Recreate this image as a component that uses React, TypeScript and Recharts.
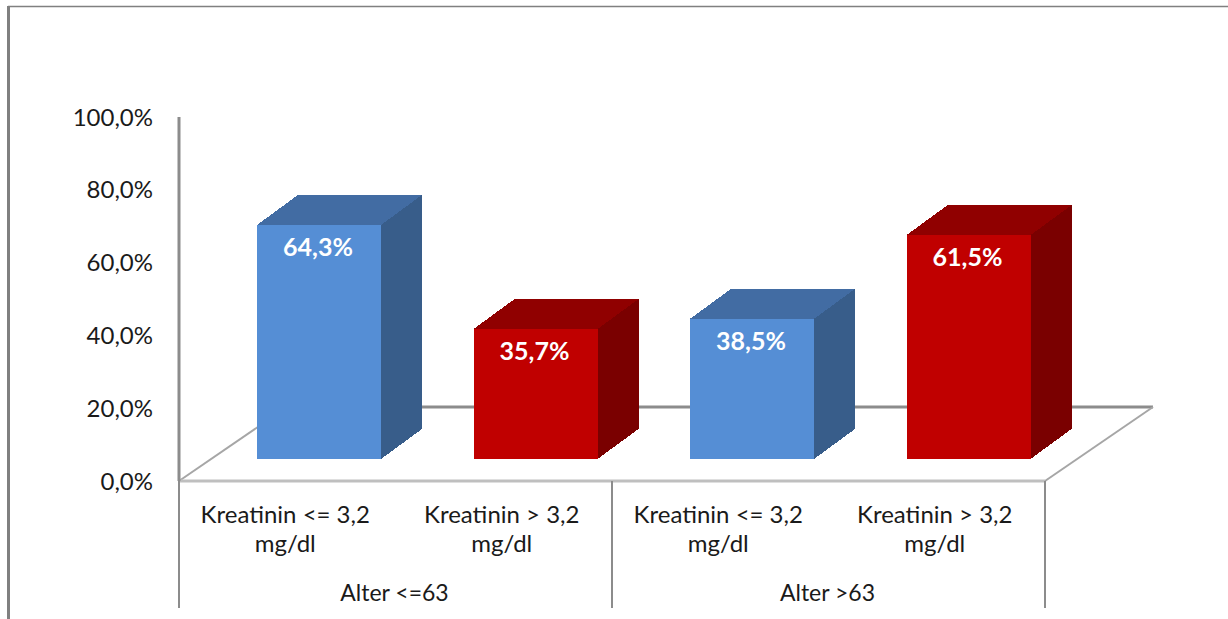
import { BarChart, Bar, XAxis, YAxis, Customized, LabelList } from "recharts"

const categories = [
  "Kreatinin <= 3,2\nmg/dl",
  "Kreatinin > 3,2\nmg/dl",
  "Kreatinin <= 3,2\nmg/dl",
  "Kreatinin > 3,2\nmg/dl",
]
const groups = ["Alter <=63", "Alter <=63", "Alter >63", "Alter >63"]
const values = [64.3, 35.7, 38.5, 61.5]
const yTicks = [0, 20, 40, 60, 80, 100]

const data = categories.map((name, i) => ({ name, group: groups[i], value: values[i] }))

const W = 1228
const H = 619
const PLOT_LEFT = 179
const PLOT_RIGHT = 1045
const PLOT_TOP = 117
const PLOT_BOTTOM = 481
const FONT = "Lato, sans-serif"
const TEXT = "#1a1a1a"

// fake 3d: how far the bar sits in from the front edge, and the depth of its box
const SHIFT_X = 32
const SHIFT_Y = 22
const DEPTH_X = 41
const DEPTH_Y = 30

const blue = { front: "#558ed5", top: "#426ca3", side: "#385d8a" }
const red = { front: "#c00000", top: "#900000", side: "#7a0000" }
const palette = [blue, red, blue, red]

const pct = (v: number) => v.toFixed(1).replace(".", ",") + "%"

function Box(props: any) {
  const { x, y, width, height, index } = props
  const c = palette[index]
  const l = x + SHIFT_X
  const r = l + width
  const t = y - SHIFT_Y
  const b = t + height
  return (
    <g shapeRendering="crispEdges">
      <polygon
        points={`${r},${t} ${r + DEPTH_X},${t - DEPTH_Y} ${r + DEPTH_X},${b - DEPTH_Y} ${r},${b}`}
        fill={c.side}
      />
      <polygon
        points={`${l},${t} ${l + DEPTH_X},${t - DEPTH_Y} ${r + DEPTH_X},${t - DEPTH_Y} ${r},${t}`}
        fill={c.top}
      />
      <rect x={l} y={t} width={width} height={height} fill={c.front} />
    </g>
  )
}

function BarValue(props: any) {
  const { x, y, width, value } = props
  return (
    <text
      x={x + SHIFT_X + width / 2 - 1}
      y={y - SHIFT_Y + 21}
      textAnchor="middle"
      dominantBaseline="central"
      fontFamily={FONT}
      fontWeight={700}
      fontSize={25}
      fill="#fff"
    >
      {pct(value)}
    </text>
  )
}

function CategoryTick(props: any) {
  const { x, y, payload, index } = props
  const [first, second] = String(payload.value).split("\n")
  const step = (PLOT_RIGHT - PLOT_LEFT) / categories.length
  const lineProps = { stroke: "#8c8c8c", strokeWidth: 2 }
  return (
    <g fontFamily={FONT} fontSize={24} fill={TEXT} textAnchor="middle">
      <text x={x - 2} y={y + 34}>{first}</text>
      <text x={x - 2} y={y + 63}>{second}</text>
      {index % 2 === 0 && (
        <>
          <text x={x + step / 2 - 1} y={y + 112} fontSize={23}>{groups[index]}</text>
          <line x1={x - step / 2} x2={x - step / 2} y1={y - 8} y2={y + 119} {...lineProps} />
        </>
      )}
      {index === categories.length - 1 && (
        <line x1={x + step / 2} x2={x + step / 2} y1={y - 8} y2={y + 119} {...lineProps} />
      )}
    </g>
  )
}

function Frame() {
  const back = 407
  const floorDx = 108
  return (
    <g>
      <line x1={8.5} x2={8.5} y1={6} y2={H} stroke="#808080" strokeWidth={3} />
      <line x1={8} x2={W} y1={6.5} y2={6.5} stroke="#808080" strokeWidth={1.5} />
      <line x1={PLOT_LEFT + floorDx} x2={PLOT_RIGHT + floorDx} y1={back} y2={back} stroke="#8c8c8c" strokeWidth={3} />
      <line x1={PLOT_LEFT} x2={PLOT_LEFT + floorDx} y1={PLOT_BOTTOM} y2={back} stroke="#a6a6a6" strokeWidth={2} />
      <line x1={PLOT_RIGHT} x2={PLOT_RIGHT + floorDx} y1={PLOT_BOTTOM} y2={back} stroke="#a6a6a6" strokeWidth={2} />
      <line x1={PLOT_LEFT} x2={PLOT_RIGHT} y1={PLOT_BOTTOM} y2={PLOT_BOTTOM} stroke="#bfbfbf" strokeWidth={3} />
    </g>
  )
}

export default function App() {
  return (
    <div style={{ position: "fixed", left: 0, top: 0, width: W, height: H, background: "#fff" }}>
      <BarChart
        width={W}
        height={H}
        data={data}
        margin={{ top: PLOT_TOP, right: W - PLOT_RIGHT, bottom: 0, left: 0 }}
        barSize={124}
      >
        <Customized component={Frame} />
        <XAxis
          dataKey="name"
          axisLine={false}
          tickLine={false}
          interval={0}
          tick={<CategoryTick />}
          height={H - PLOT_BOTTOM}
        />
        <YAxis
          width={PLOT_LEFT}
          domain={[0, 100]}
          ticks={yTicks}
          tickFormatter={pct}
          axisLine={{ stroke: "#8c8c8c", strokeWidth: 3 }}
          tickLine={false}
          tickMargin={20}
          tick={{ fontFamily: FONT, fontSize: 24, fill: TEXT }}
        />
        <Bar dataKey="value" shape={<Box />} isAnimationActive={false}>
          <LabelList dataKey="value" content={<BarValue />} />
        </Bar>
      </BarChart>
    </div>
  )
}
